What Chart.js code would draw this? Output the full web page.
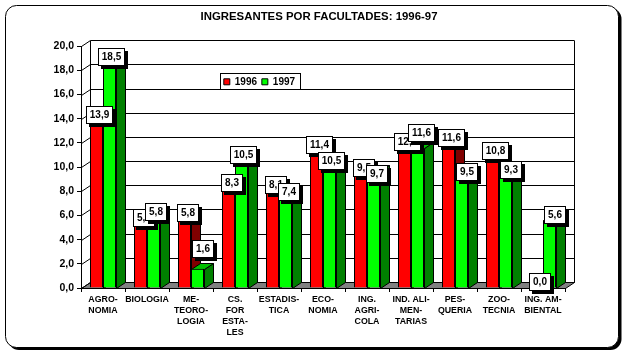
<!DOCTYPE html>
<html><head><meta charset="utf-8">
<style>html,body{margin:0;padding:0;background:#fff}canvas{display:block}</style>
<script src="https://cdn.jsdelivr.net/npm/chart.js@4"></script></head>
<body><div style="width:630px;height:358px"><canvas id="c" width="630" height="358"></canvas></div>
<script>
const categories=[["AGRO-","NOMIA"],"BIOLOGIA",["ME-","TEORO-","LOGIA"],["CS.","FOR","ESTA-","LES"],["ESTADIS-","TICA"],["ECO-","NOMIA"],["ING.","AGRI-","COLA"],["IND. ALI-","MEN-","TARIAS"],["PES-","QUERIA"],["ZOO-","TECNIA"],["ING. AM-","BIENTAL"]];
const values1996=[13.9,5.4,5.8,8.3,8.1,11.4,9.5,12.0,11.6,10.8,0.0];
const values1997=[18.5,5.8,1.6,10.5,7.4,10.5,9.7,11.6,9.5,9.3,5.6];
const seriesNames=["1996","1997"];
const yMax=20, yStep=2;
// Hand-placed data-label boxes: offset of box centre from bar centre, and of box bottom from bar top
const labelDx1996=[2.5,2,2,2,2,2,2,2,2,2.5,2];
const labelDy1996=[3,3,3,3,3,3,3,7,-2,2,2];
const labelDx1997=[1.5,1,4,1.5,2,1.5,2,3,4,4,4];
const labelDy1997=[1,2,-12,2,1.5,8,11,-7,7,2,3];
const DX=9,DY=6,FONT='"Liberation Sans"';
function fmt(v){return v.toFixed(1).replace('.',',');}
function backdrop(chart){
 const c=chart.ctx,a=chart.chartArea,y=chart.scales.y;
 c.save();c.fillStyle='#fff';c.fillRect(0,0,630,358);
 c.fillStyle='#000';c.beginPath();c.roundRect(8,8,613.5,342,11);c.fill();
 c.fillStyle='#fff';c.strokeStyle='#000';c.lineWidth=1;c.beginPath();c.roundRect(5.5,5.5,613,342,11);c.fill();c.stroke();
 c.translate(0.5,0.5);
 const L=Math.floor(a.left),R=Math.floor(a.right),B=Math.floor(a.bottom);
 c.fillStyle='#808080';c.beginPath();c.moveTo(L,B);c.lineTo(L+DX,B-DY);c.lineTo(R+DX,B-DY);c.lineTo(R,B);c.closePath();c.fill();c.stroke();
 for(let v=0;v<=yMax;v+=yStep){const p=Math.round(y.getPixelForValue(v));
  c.beginPath();c.moveTo(L,p);c.lineTo(L+DX,p-DY);c.lineTo(R+DX,p-DY);c.stroke();}
 c.beginPath();c.moveTo(L+DX,B-DY);c.lineTo(L+DX,a.top-DY);c.moveTo(R+DX,B-DY);c.lineTo(R+DX,a.top-DY);c.stroke();
 c.fillStyle='#fff';c.fillRect(220,73,80,16);c.strokeRect(220,73,80,16);
 c.restore();
}
function face(c,pts,fill){c.fillStyle=fill;c.beginPath();pts.forEach((p,i)=>i?c.lineTo(p[0],p[1]):c.moveTo(p[0],p[1]));c.closePath();c.fill();c.stroke();}
function depth(chart,i,side,top){
 const c=chart.ctx;c.save();c.strokeStyle='#000';c.lineWidth=1;
 chart.getDatasetMeta(i).data.forEach(b=>{
  const r=Math.round(b.x+b.width/2)+.5,l=Math.round(b.x-b.width/2)+.5,t=Math.round(b.y)+.5,bt=Math.round(b.base)+.5;
  if(Math.abs(bt-t)<0.5)return;
  face(c,[[r,t],[r+DX,t-DY],[r+DX,bt-DY],[r,bt]],side);
  face(c,[[l,t],[l+DX,t-DY],[r+DX,t-DY],[r,t]],top);
 });c.restore();
}
function labels(chart,i,dxs,dys,ds){
 const c=chart.ctx;c.save();c.font='bold 10px '+FONT;c.textAlign='center';c.textBaseline='middle';
 chart.getDatasetMeta(i).data.forEach((b,k)=>{
  const s=fmt(ds[k]),w=Math.round(c.measureText(s).width)+7,h=17;
  const cx=Math.round(b.x+dxs[k]),bot=Math.round(b.y+dys[k]);
  const x=Math.round(cx-w/2),y=bot-h;
  c.fillStyle='#000';c.fillRect(x+3,y+3,w+1,h+1);
  c.fillStyle='#fff';c.strokeStyle='#000';c.lineWidth=1;c.fillRect(x,y,w,h);c.strokeRect(x+.5,y+.5,w,h);
  c.fillStyle='#000';c.fillText(s,x+w/2+.5,y+h/2+1);
 });c.restore();
}
const plugin={id:'pseudo3d',
 afterLayout(chart){const t=chart.titleBlock;if(t){t.left=0;t.right=638;t.width=638;}
  const l=chart.legend;if(l){l.left=219;l.top=72;l.right=400;l.bottom=90;}},
 beforeDraw:backdrop,
 beforeDatasetsDraw(chart){depth(chart,0,'#800000','#C00000');depth(chart,1,'#008000','#00C000');},
 afterDatasetsDraw(chart){labels(chart,0,labelDx1996,labelDy1996,values1996);labels(chart,1,labelDx1997,labelDy1997,values1997);}
};
new Chart(document.getElementById('c'),{type:'bar',plugins:[plugin],
 data:{labels:categories,datasets:[
  {label:seriesNames[0],data:values1996,backgroundColor:'#FF0000',borderColor:'#000',borderWidth:1},
  {label:seriesNames[1],data:values1997,backgroundColor:'#00FF00',borderColor:'#000',borderWidth:1}]},
 options:{responsive:false,animation:false,events:[],
  layout:{padding:{left:0,right:65,top:0,bottom:0}},
  categoryPercentage:26/44,barPercentage:1,
  plugins:{tooltip:{enabled:false},
   title:{display:true,text:'INGRESANTES POR FACULTADES: 1996-97',color:'#000',font:{family:FONT,size:11.4,weight:'bold'},padding:{top:10,bottom:-2.3}},
   legend:{position:'top',align:'start',labels:{color:'#000',font:{family:FONT,size:10,weight:'bold'},boxWidth:6,boxHeight:6,padding:4.8}}},
  scales:{
   x:{grid:{display:true,drawOnChartArea:false,tickLength:4,color:'#000'},border:{color:'#000'},
      afterFit(s){s.height=70;},
      ticks:{color:'#000',maxRotation:0,autoSkip:false,padding:2,font:{family:FONT,size:8.8,weight:'bold',lineHeight:1.25}}},
   y:{min:0,max:yMax,ticks:{stepSize:yStep,color:'#000',padding:3,callback:v=>fmt(v),font:{family:FONT,size:10.5,weight:'bold'}},
      afterFit(s){s.width=81;},
      grid:{display:true,drawOnChartArea:false,tickLength:4,color:'#000'},border:{color:'#000'}}
  }}});
</script></body></html>
